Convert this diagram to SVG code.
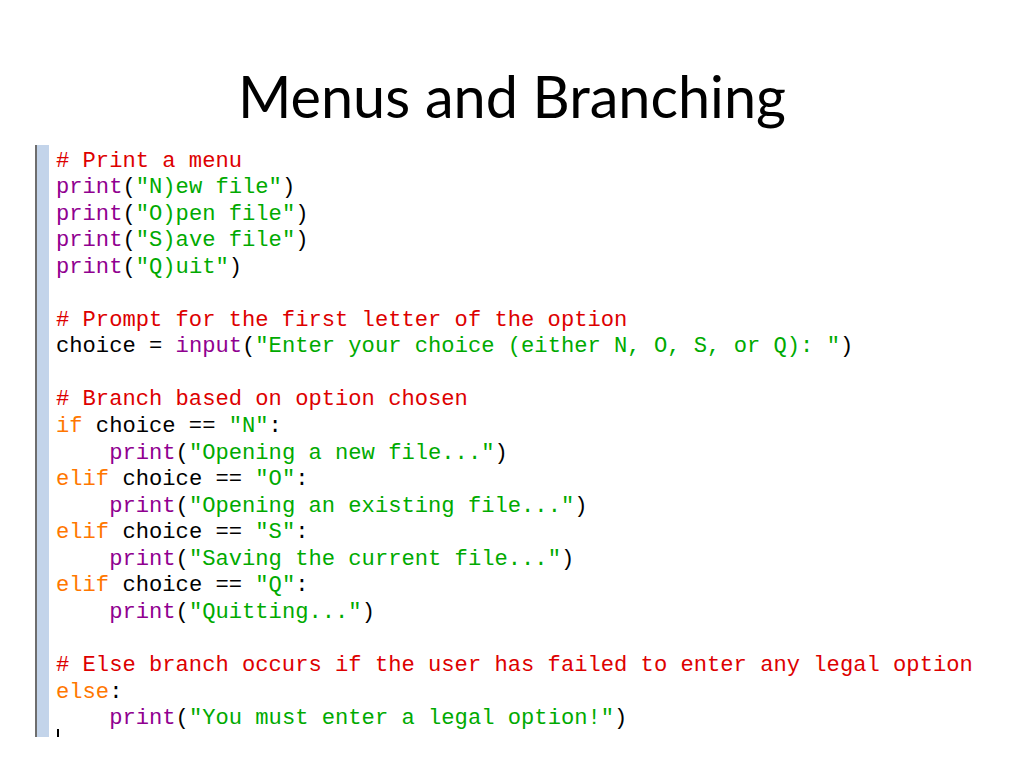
<svg xmlns="http://www.w3.org/2000/svg" width="1024" height="768" viewBox="0 0 1024 768">
<style>
.title{font-family:Lato,"Open Sans","Liberation Sans",sans-serif;font-size:58px;fill:#000}
.code{font-family:"Liberation Mono","DejaVu Sans Mono",monospace;font-size:22.15px;fill:#000}
.c{fill:#dd0000}
.k{fill:#ff7700}
.b{fill:#900090}
.s{fill:#00aa00}
</style>
<rect x="0" y="0" width="1024" height="768" fill="#ffffff"/>
<text id="title" class="title" x="512" y="118" text-anchor="middle" textLength="548" lengthAdjust="spacingAndGlyphs">Menus and Branching</text>
<g id="editor">
<rect x="35" y="145" width="2" height="592" fill="#6e6e6e"/>
<rect x="37" y="145" width="12" height="592" fill="#c3d4ea"/>
<rect x="57" y="729" width="2" height="8" fill="#000"/>
</g>
<g id="code" class="code">
<text x="56" y="166.5"><tspan class="c"># Print a menu</tspan></text>
<text x="56" y="193.05"><tspan class="b">print</tspan>(<tspan class="s">"N)ew file"</tspan>)</text>
<text x="56" y="219.6"><tspan class="b">print</tspan>(<tspan class="s">"O)pen file"</tspan>)</text>
<text x="56" y="246.15"><tspan class="b">print</tspan>(<tspan class="s">"S)ave file"</tspan>)</text>
<text x="56" y="272.7"><tspan class="b">print</tspan>(<tspan class="s">"Q)uit"</tspan>)</text>
<text x="56" y="325.8"><tspan class="c"># Prompt for the first letter of the option</tspan></text>
<text x="56" y="352.35">choice = <tspan class="b">input</tspan>(<tspan class="s">"Enter your choice (either N, O, S, or Q): "</tspan>)</text>
<text x="56" y="405.45"><tspan class="c"># Branch based on option chosen</tspan></text>
<text x="56" y="432"><tspan class="k">if</tspan> choice == <tspan class="s">"N"</tspan>:</text>
<text x="109.16" y="458.55"><tspan class="b">print</tspan>(<tspan class="s">"Opening a new file..."</tspan>)</text>
<text x="56" y="485.1"><tspan class="k">elif</tspan> choice == <tspan class="s">"O"</tspan>:</text>
<text x="109.16" y="511.65"><tspan class="b">print</tspan>(<tspan class="s">"Opening an existing file..."</tspan>)</text>
<text x="56" y="538.2"><tspan class="k">elif</tspan> choice == <tspan class="s">"S"</tspan>:</text>
<text x="109.16" y="564.75"><tspan class="b">print</tspan>(<tspan class="s">"Saving the current file..."</tspan>)</text>
<text x="56" y="591.3"><tspan class="k">elif</tspan> choice == <tspan class="s">"Q"</tspan>:</text>
<text x="109.16" y="617.85"><tspan class="b">print</tspan>(<tspan class="s">"Quitting..."</tspan>)</text>
<text x="56" y="670.95"><tspan class="c"># Else branch occurs if the user has failed to enter any legal option</tspan></text>
<text x="56" y="697.5"><tspan class="k">else</tspan>:</text>
<text x="109.16" y="724.05"><tspan class="b">print</tspan>(<tspan class="s">"You must enter a legal option!"</tspan>)</text>
</g>
</svg>
